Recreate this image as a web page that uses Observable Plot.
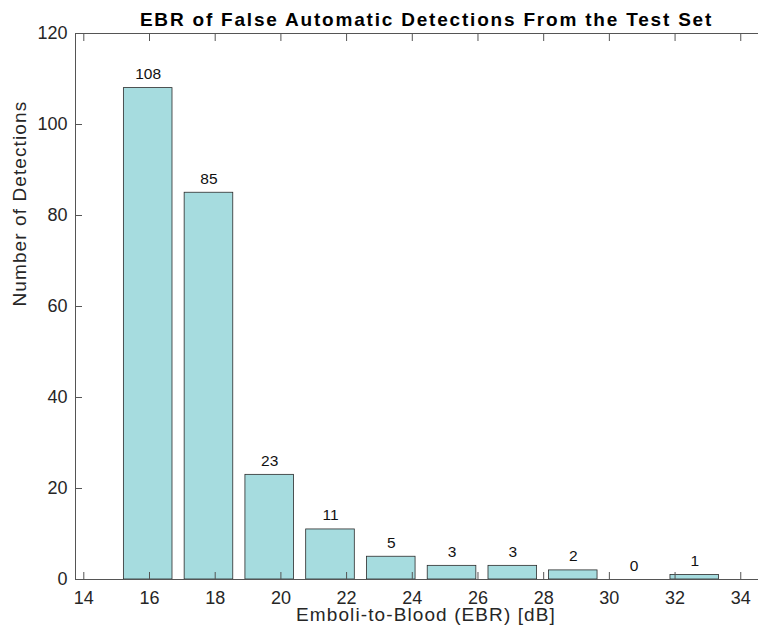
<!DOCTYPE html>
<html>
<head>
<meta charset="utf-8">
<script src="https://cdn.jsdelivr.net/npm/d3@7"></script>
<script src="https://cdn.jsdelivr.net/npm/@observablehq/plot@0.6"></script>
<style>
  html, body { margin: 0; padding: 0; background: #fff; }
  #chart svg { display: block; }
</style>
</head>
<body>
<div id="chart"></div>
<script>
// Data
const binCenters = [15.96, 17.81, 19.66, 21.51, 23.36, 25.21, 27.06, 28.90, 30.75, 32.60];
const counts     = [108, 85, 23, 11, 5, 3, 3, 2, 0, 1];
const xTicks = [14, 16, 18, 20, 22, 24, 26, 28, 30, 32, 34];
const yTicks = [0, 20, 40, 60, 80, 100, 120];
const titleText = "EBR of False Automatic Detections From the Test Set";
const xLabel = "Emboli-to-Blood (EBR) [dB]";
const yLabel = "Number of Detections";

const xDomain = [13.747, 34.54];
const yDomain = [0, 120];
const barHalf = 0.74;
const tickLen = 7;

const data = binCenters.map((c, i) => ({center: c, count: counts[i]}));

const axisColor = "#555";
const textColor = "#262626";
const font = "'Liberation Sans', Arial, Helvetica, sans-serif";

const chart = Plot.plot({
  width: 758,
  height: 641,
  marginLeft: 75,
  marginRight: 0,
  marginTop: 33,
  marginBottom: 62,
  style: {fontFamily: font, color: textColor, background: "#fff"},
  x: {domain: xDomain, ticks: xTicks},
  y: {domain: yDomain, ticks: yTicks},
  marks: [
    Plot.rectY(data.filter(d => d.count > 0), {
      x1: d => d.center - barHalf,
      x2: d => d.center + barHalf,
      y1: 0,
      y2: "count",
      fill: "#a6dcdf",
      stroke: "#2b2b2b",
      strokeWidth: 0.8
    }),
    Plot.text(data, {
      x: "center",
      y: "count",
      text: d => String(d.count),
      lineAnchor: "bottom",
      dy: -9,
      fontSize: 15.5,
      fill: "#111"
    }),
    // frame lines (left, bottom, top)
    Plot.ruleY([yDomain[0], yDomain[1]], {stroke: axisColor, strokeWidth: 1}),
    Plot.ruleX([xDomain[0]], {stroke: axisColor, strokeWidth: 1}),
    // inward ticks (outward ticks shifted inside by their length)
    Plot.axisX({ticks: xTicks, anchor: "bottom", tickSize: tickLen, dy: -tickLen, text: null, stroke: axisColor, label: null}),
    Plot.axisX({ticks: xTicks, anchor: "top", tickSize: tickLen, dy: tickLen, text: null, stroke: axisColor, label: null}),
    Plot.axisY({ticks: yTicks, anchor: "left", tickSize: tickLen, dx: tickLen, text: null, stroke: axisColor, label: null}),
    // tick labels
    Plot.axisX({ticks: xTicks, anchor: "bottom", tickSize: 0, tickPadding: 12, fontSize: 18, fill: textColor, label: null}),
    Plot.axisY({ticks: yTicks, anchor: "left", tickSize: 0, tickPadding: 8, fontSize: 18, fill: textColor, label: null}),
    // titles
    Plot.text([titleText], {frameAnchor: "top", lineAnchor: "bottom", dy: -8, dx: 9.5, fontSize: 19, fontWeight: "bold", fill: "#000", style: "letter-spacing:1.8px"}),
    Plot.text([xLabel], {frameAnchor: "bottom", lineAnchor: "bottom", dy: 41, dx: 9, fontSize: 19, fill: textColor}),
    Plot.text([yLabel], {frameAnchor: "left", lineAnchor: "middle", rotate: -90, dx: -56, fontSize: 19, fill: textColor})
  ]
});
// widen the title and axis labels to the reference's letter spacing
const texts = chart.querySelectorAll("text");
texts.forEach(t => {
  const s = t.textContent;
  if (s === titleText) t.setAttribute("letter-spacing", "1.8");
  else if (s === xLabel || s === yLabel) t.setAttribute("letter-spacing", "1.1");
});
document.getElementById("chart").appendChild(chart);
</script>
</body>
</html>
